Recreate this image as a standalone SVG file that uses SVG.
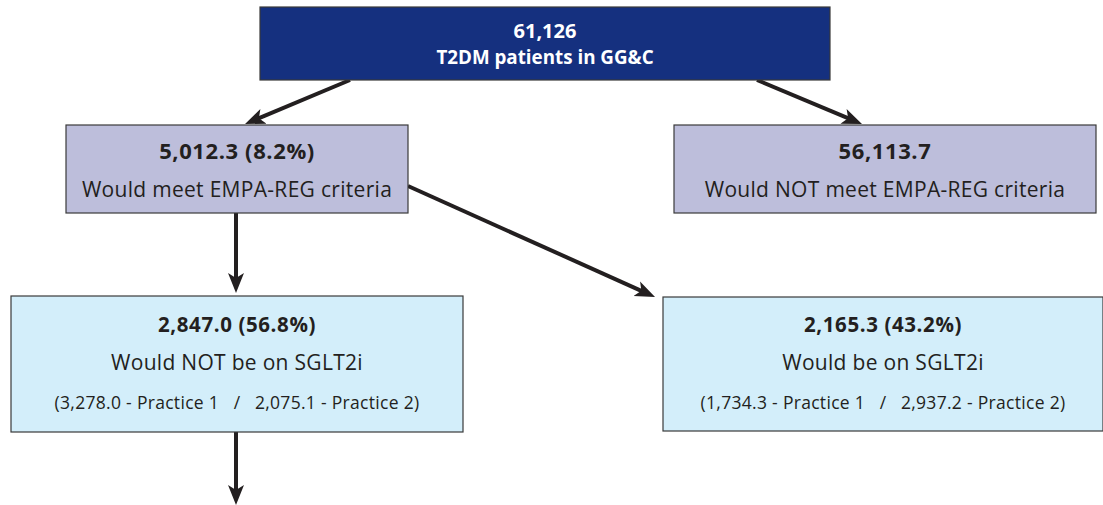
<svg xmlns="http://www.w3.org/2000/svg" width="1103" height="505" viewBox="0 0 1103 505">
<style>
.box{stroke:#3a3a3a;stroke-width:1.2}
.navy{fill:#15307f}
.lav{fill:#bdbedb}
.sky{fill:#d3eefa}
text{font-family:"Open Sans","Noto Sans","Liberation Sans",sans-serif;text-anchor:middle;fill:#231f20}
.b{font-weight:700;font-size:22px;letter-spacing:0.6px}
.m{font-size:21px;letter-spacing:0.3px}
.s{font-size:17.5px;letter-spacing:0.3px}
.w{fill:#ffffff;font-size:20px;letter-spacing:0}
.conn{stroke:#231f20;stroke-width:4;fill:none;marker-end:url(#ah)}
</style>
<defs>
<marker id="ah" markerUnits="userSpaceOnUse" markerWidth="22" markerHeight="20" viewBox="0 -10 22 20" refX="8" refY="0" orient="auto">
<path d="M20,0 L0,-8 L5,0 L0,8 Z" fill="#231f20"/>
</marker>
</defs>
<rect width="1103" height="505" fill="#ffffff"/>
<g id="connectors">
<line class="conn" x1="350" y1="80" x2="256.1" y2="119.4"/>
<line class="conn" x1="757" y1="80" x2="850.9" y2="119.4"/>
<line class="conn" x1="408" y1="186" x2="644.1" y2="292.1"/>
<line class="conn" x1="236" y1="213" x2="236" y2="281"/>
<line class="conn" x1="236" y1="432" x2="236" y2="493"/>
</g>
<g id="n-total">
<rect class="box navy" x="260" y="7" width="570" height="73"/>
<text class="b w" x="545" y="38">61,126</text>
<text class="b w" x="545" y="64" style="font-size:18.8px">T2DM patients in GG&amp;C</text>
</g>
<g id="n-meet">
<rect class="box lav" x="66" y="125" width="342" height="88"/>
<text class="b" x="237" y="159">5,012.3 (8.2%)</text>
<text class="m" x="237" y="197">Would meet EMPA-REG criteria</text>
</g>
<g id="n-notmeet">
<rect class="box lav" x="674" y="125" width="422" height="88"/>
<text class="b" x="885" y="159">56,113.7</text>
<text class="m" x="885" y="197">Would NOT meet EMPA-REG criteria</text>
</g>
<g id="n-noton">
<rect class="box sky" x="11" y="296" width="452" height="136"/>
<text class="b" x="237" y="332" style="font-size:20.5px">2,847.0 (56.8%)</text>
<text class="m" x="237" y="370">Would NOT be on SGLT2i</text>
<text class="s" x="237" y="409" xml:space="preserve">(3,278.0 - Practice 1   /   2,075.1 - Practice 2)</text>
</g>
<g id="n-on">
<rect class="box sky" x="663" y="297" width="440" height="134"/>
<text class="b" x="883" y="332" style="font-size:20.5px">2,165.3 (43.2%)</text>
<text class="m" x="883" y="370">Would be on SGLT2i</text>
<text class="s" x="883" y="409" xml:space="preserve">(1,734.3 - Practice 1   /   2,937.2 - Practice 2)</text>
</g>
</svg>
